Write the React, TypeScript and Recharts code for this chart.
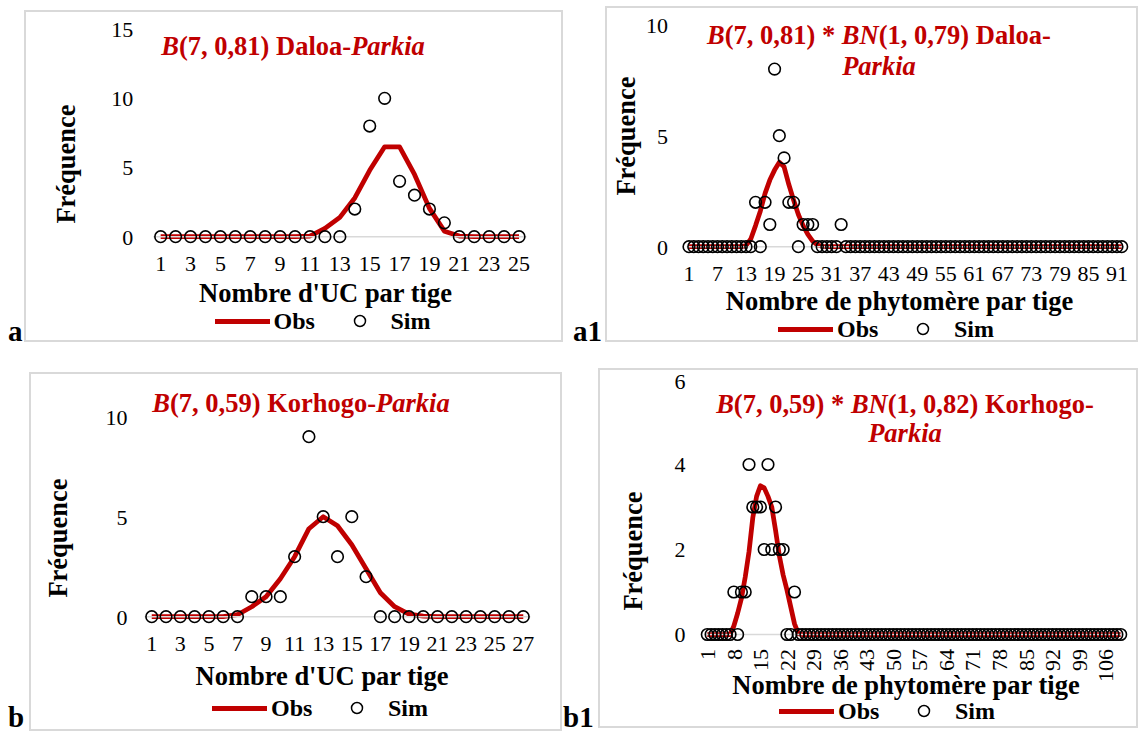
import React from "react";
import { ComposedChart, Line, XAxis, YAxis } from "recharts";

const FONT = '"Liberation Serif", "Times New Roman", serif';
const RED = "#C00000";
const GRID = "#D9D9D9";

// a : B(7, 0,81) Daloa-Parkia, nombre d'UC par tige
const obsA = [0, 0, 0, 0, 0, 0, 0, 0, 0, 0, 0.05, 0.6, 1.4, 2.8, 4.8, 6.5, 6.5, 4.5, 2.05, 0.4, 0.05, 0, 0, 0, 0];
const simA = [0, 0, 0, 0, 0, 0, 0, 0, 0, 0, 0, 0, 0, 2, 8, 10, 4, 3, 2, 1, 0, 0, 0, 0, 0];

// a1 : B(7, 0,81) * BN(1, 0,79) Daloa-Parkia, phytomeres par tige
const obsA1 = [
  0, 0, 0, 0, 0, 0, 0, 0, 0, 0,
  0, 0, 0.05, 0.35, 0.95, 1.6, 2.4, 3.0, 3.45, 3.8,
  3.6, 2.8, 2.1, 1.45, 0.95, 0.55, 0.25, 0.08, 0.02, 0,
  0, 0, 0, 0, 0, 0, 0, 0, 0, 0,
  0, 0, 0, 0, 0, 0, 0, 0, 0, 0,
  0, 0, 0, 0, 0, 0, 0, 0, 0, 0,
  0, 0, 0, 0, 0, 0, 0, 0, 0, 0,
  0, 0, 0, 0, 0, 0, 0, 0, 0, 0,
  0, 0, 0, 0, 0, 0, 0, 0, 0, 0,
  0, 0,
];
const simA1 = [
  0, 0, 0, 0, 0, 0, 0, 0, 0, 0,
  0, 0, 0, 0, 2, 0, 2, 1, 8, 5,
  4, 2, 2, 0, 1, 1, 1, 0, 0, 0,
  0, 0, 1, 0, 0, 0, 0, 0, 0, 0,
  0, 0, 0, 0, 0, 0, 0, 0, 0, 0,
  0, 0, 0, 0, 0, 0, 0, 0, 0, 0,
  0, 0, 0, 0, 0, 0, 0, 0, 0, 0,
  0, 0, 0, 0, 0, 0, 0, 0, 0, 0,
  0, 0, 0, 0, 0, 0, 0, 0, 0, 0,
  0, 0,
];

// b : B(7, 0,59) Korhogo-Parkia
const obsB = [0, 0, 0, 0, 0, 0, 0.1, 0.5, 1.0, 1.9, 3.0, 4.4, 5.0, 4.55, 3.6, 2.4, 1.2, 0.5, 0.13, 0.03, 0, 0, 0, 0, 0, 0, 0];
const simB = [0, 0, 0, 0, 0, 0, 0, 1, 1, 1, 3, 9, 5, 3, 5, 2, 0, 0, 0, 0, 0, 0, 0, 0, 0, 0, 0];

// b1 : B(7, 0,59) * BN(1, 0,82) Korhogo-Parkia
const obsB1 = [
  0, 0, 0, 0, 0, 0, 0, 0.2, 0.5, 0.85,
  1.35, 1.95, 2.75, 3.25, 3.5, 3.45, 3.25, 3.0, 2.45, 1.85,
  1.4, 1.05, 0.65, 0.25, 0.02, 0, 0, 0, 0, 0,
  0, 0, 0, 0, 0, 0, 0, 0, 0, 0,
  0, 0, 0, 0, 0, 0, 0, 0, 0, 0,
  0, 0, 0, 0, 0, 0, 0, 0, 0, 0,
  0, 0, 0, 0, 0, 0, 0, 0, 0, 0,
  0, 0, 0, 0, 0, 0, 0, 0, 0, 0,
  0, 0, 0, 0, 0, 0, 0, 0, 0, 0,
  0, 0, 0, 0, 0, 0, 0, 0, 0, 0,
  0, 0, 0, 0, 0, 0, 0, 0, 0, 0,
];
const simB1 = [
  0, 0, 0, 0, 0, 0, 0, 1, 0, 1,
  1, 4, 3, 3, 3, 2, 4, 2, 3, 2,
  2, 0, 0, 1, 0, 0, 0, 0, 0, 0,
  0, 0, 0, 0, 0, 0, 0, 0, 0, 0,
  0, 0, 0, 0, 0, 0, 0, 0, 0, 0,
  0, 0, 0, 0, 0, 0, 0, 0, 0, 0,
  0, 0, 0, 0, 0, 0, 0, 0, 0, 0,
  0, 0, 0, 0, 0, 0, 0, 0, 0, 0,
  0, 0, 0, 0, 0, 0, 0, 0, 0, 0,
  0, 0, 0, 0, 0, 0, 0, 0, 0, 0,
  0, 0, 0, 0, 0, 0, 0, 0, 0, 0,
];

const ticksA = [0, 5, 10, 15];
const ticksA1 = [0, 5, 10];
const ticksB = [0, 5, 10];
const ticksB1 = [0, 2, 4, 6];

// categories are just 1..n
const toRows = (obs: number[], sim: number[]) =>
  obs.map((o, i) => ({ cat: i + 1, obs: o, sim: sim[i] }));

type Box = { x: number; y: number; w: number; h: number };
type Plot = { l: number; r: number; t: number; b: number };

const RotTick = (props: any) => {
  const { x, y, payload } = props;
  return (
    <g transform={`translate(${x},${y})`}>
      <text transform="rotate(-90)" textAnchor="end" dy="0.35em" fill="#000" fontSize={22} fontFamily={FONT}>
        {payload.value}
      </text>
    </g>
  );
};

function Panel(props: {
  box: Box;
  plot: Plot;
  obs: number[];
  sim: number[];
  yTicks: number[];
  interval: number;
  yGap: number;
  xGap: number;
  rotate?: boolean;
}) {
  const { box, plot, obs, sim, yTicks, interval, yGap, xGap, rotate } = props;
  const data = toRows(obs, sim);
  const band = (plot.r - plot.l) / data.length;
  return (
    <div style={{ position: "absolute", left: box.x, top: box.y }}>
      <ComposedChart
        width={box.w}
        height={box.h}
        data={data}
        margin={{ top: plot.t - box.y, right: box.x + box.w - plot.r, left: 0, bottom: 0 }}
      >
        <XAxis
          dataKey="cat"
          height={box.y + box.h - plot.b}
          padding={{ left: band / 2, right: band / 2 }}
          interval={interval}
          tickLine={false}
          tickSize={0}
          tickMargin={xGap}
          axisLine={{ stroke: GRID, strokeWidth: 1.5 }}
          tick={rotate ? <RotTick /> : { fill: "#000", fontSize: 22, fontFamily: FONT }}
        />
        <YAxis
          width={plot.l - box.x}
          domain={[0, yTicks[yTicks.length - 1]]}
          ticks={yTicks}
          axisLine={false}
          tickLine={false}
          tickSize={0}
          tickMargin={yGap}
          tick={{ fill: "#000", fontSize: 22, fontFamily: FONT }}
        />
        <Line
          dataKey="obs"
          type="linear"
          stroke={RED}
          strokeWidth={4.75}
          strokeLinejoin="round"
          dot={false}
          activeDot={false}
          isAnimationActive={false}
        />
        <Line
          dataKey="sim"
          stroke="none"
          dot={{ r: 5.8, stroke: "#000", strokeWidth: 1.6, fill: "none" }}
          activeDot={false}
          isAnimationActive={false}
        />
      </ComposedChart>
    </div>
  );
}

const Txt = (p: { x: number; y: number; size: number; color?: string; bold?: boolean; rot?: boolean; children: React.ReactNode }) => (
  <div
    style={{
      position: "absolute",
      left: p.x,
      top: p.y,
      transform: `translate(-50%,-50%)${p.rot ? " rotate(-90deg)" : ""}`,
      fontSize: p.size,
      fontWeight: p.bold === false ? 400 : 700,
      color: p.color || "#000",
      whiteSpace: "nowrap",
      lineHeight: 1,
      textAlign: "center",
    }}
  >
    {p.children}
  </div>
);

const Legend = ({ x, y }: { x: number; y: number }) => (
  <>
    <div style={{ position: "absolute", left: x, top: y - 2.5, width: 55, height: 5, background: RED }} />
    <div style={{ position: "absolute", left: x + 59, top: y - 11, fontSize: 24, fontWeight: 700, lineHeight: "22px" }}>Obs</div>
    <svg style={{ position: "absolute", left: x + 138, top: y - 7 }} width={14} height={14}>
      <circle cx={7} cy={7} r={5.5} stroke="#000" strokeWidth={1.5} fill="none" />
    </svg>
    <div style={{ position: "absolute", left: x + 176, top: y - 11, fontSize: 24, fontWeight: 700, lineHeight: "22px" }}>Sim</div>
  </>
);

const Frame = ({ b }: { b: Box }) => (
  <div style={{ position: "absolute", left: b.x, top: b.y, width: b.w, height: b.h, border: `2px solid ${GRID}`, boxSizing: "border-box" }} />
);

const Letter = ({ x, y, children }: { x: number; y: number; children: React.ReactNode }) => (
  <div style={{ position: "absolute", left: x, top: y, fontSize: 29, fontWeight: 700, lineHeight: "29px" }}>{children}</div>
);

const I = ({ children }: { children: React.ReactNode }) => <i>{children}</i>;

export default function App() {
  const boxA = { x: 24, y: 10, w: 539, h: 332 };
  const boxA1 = { x: 605, y: 6, w: 533, h: 336 };
  const boxB = { x: 29, y: 372, w: 533, h: 359 };
  const boxB1 = { x: 598, y: 368, w: 540, h: 360 };

  return (
    <div style={{ position: "absolute", left: 0, top: 0, width: 1140, height: 733, background: "#fff", fontFamily: FONT, overflow: "hidden" }}>
      <Frame b={boxA} />
      <Frame b={boxA1} />
      <Frame b={boxB} />
      <Frame b={boxB1} />

      <Panel box={boxA} plot={{ l: 153.2, r: 526.5, t: 29.2, b: 236.7 }} obs={obsA} sim={simA} yTicks={ticksA} interval={1} yGap={20} xGap={19} />
      <Panel box={boxA1} plot={{ l: 686.6, r: 1124.1, t: 24.7, b: 246.7 }} obs={obsA1} sim={simA1} yTicks={ticksA1} interval={5} yGap={18.6} xGap={19} />
      <Panel box={boxB} plot={{ l: 144.6, r: 530.4, t: 416.7, b: 616.7 }} obs={obsB} sim={simB} yTicks={ticksB} interval={1} yGap={17} xGap={19} />
      <Panel box={boxB1} plot={{ l: 705.4, r: 1122.6, t: 379.5, b: 634.5 }} obs={obsB1} sim={simB1} yTicks={ticksB1} interval={6} yGap={20} xGap={14.5} rotate />

      {/* chart titles */}
      <Txt x={293} y={46} size={26.5} color={RED}><I>B</I>(7, 0,81) Daloa-<I>Parkia</I></Txt>
      <Txt x={879} y={35} size={26.5} color={RED}><I>B</I>(7, 0,81) * <I>BN</I>(1, 0,79) Daloa-</Txt>
      <Txt x={879} y={66} size={26.5} color={RED}><I>Parkia</I></Txt>
      <Txt x={301} y={403} size={26.5} color={RED}><I>B</I>(7, 0,59) Korhogo-<I>Parkia</I></Txt>
      <Txt x={905} y={404} size={26.5} color={RED}><I>B</I>(7, 0,59) * <I>BN</I>(1, 0,82) Korhogo-</Txt>
      <Txt x={905} y={433} size={26.5} color={RED}><I>Parkia</I></Txt>

      {/* axis titles */}
      <Txt x={65.5} y={164} size={26.5} rot>Fréquence</Txt>
      <Txt x={325.5} y={293} size={26.5}>Nombre d'UC par tige</Txt>
      <Txt x={625.5} y={136} size={26.5} rot>Fréquence</Txt>
      <Txt x={899.5} y={301} size={26.5}>Nombre de phytomère par tige</Txt>
      <Txt x={58} y={538} size={26.5} rot>Fréquence</Txt>
      <Txt x={322} y={676} size={26.5}>Nombre d'UC par tige</Txt>
      <Txt x={633} y={551} size={26.5} rot>Fréquence</Txt>
      <Txt x={906} y={685} size={26.5}>Nombre de phytomère par tige</Txt>

      <Legend x={214.5} y={321} />
      <Legend x={778} y={329} />
      <Legend x={212} y={708} />
      <Legend x={779} y={711} />

      {/* panel letters */}
      <Letter x={8} y={317}>a</Letter>
      <Letter x={573} y={317}>a1</Letter>
      <Letter x={8} y={703}>b</Letter>
      <Letter x={563} y={703}>b1</Letter>
    </div>
  );
}
